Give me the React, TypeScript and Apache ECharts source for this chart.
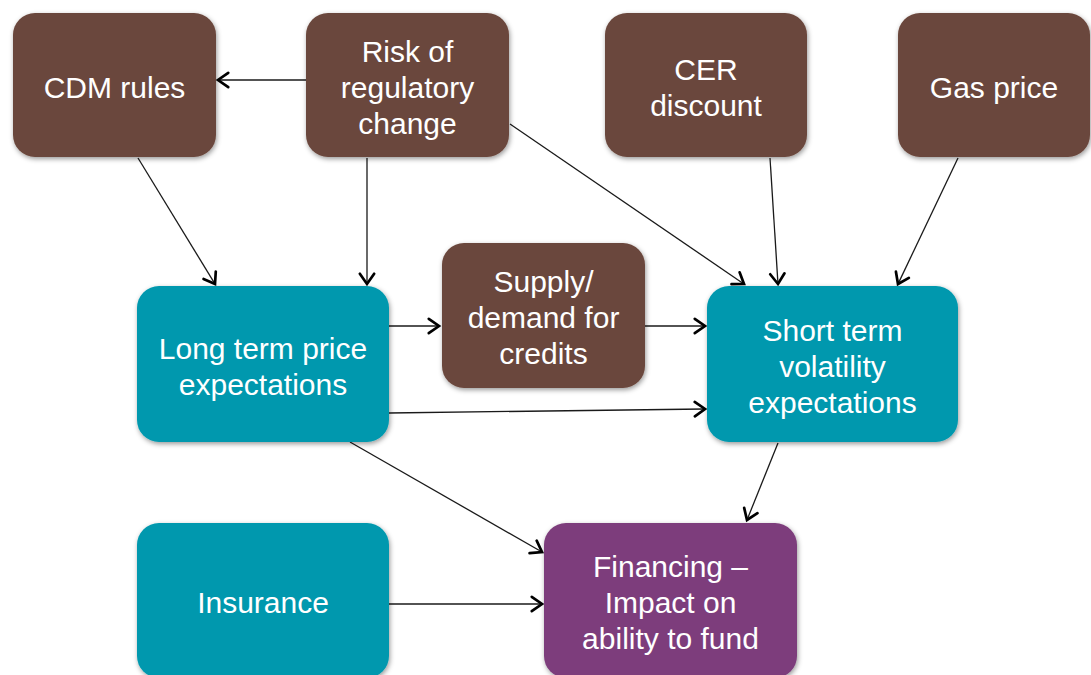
import React, { useEffect, useRef } from "react";
import * as echarts from "echarts";

// Node labels and kinds
const nodeLabels = [
  "CDM rules",
  "Risk of\nregulatory\nchange",
  "CER\ndiscount",
  "Gas price",
  "Supply/\ndemand for\ncredits",
  "Long term price\nexpectations",
  "Short term\nvolatility\nexpectations",
  "Insurance",
  "Financing –\nImpact on\nability to fund",
];
const nodeKinds = ["driver", "driver", "driver", "driver", "driver", "market", "market", "market", "outcome"];

// Node box layout [x0, y0, x1, y1] in diagram units
const nodeBoxes = [
  [13, 13, 216, 157],
  [306, 13, 509, 157],
  [605, 13, 807, 157],
  [898, 13, 1090, 157],
  [442, 243, 645, 388],
  [137, 286, 389, 442],
  [707, 286, 958, 442],
  [137, 523, 389, 678],
  [544, 523, 797, 678],
];

// Edges: from -> to, and their anchor points [x1, y1, x2, y2]
const edgeFrom = ["Risk", "CDM", "Risk", "Risk", "CER", "Gas", "Long", "Supply", "Long", "Long", "Short", "Insurance"];
const edgeTo = ["CDM", "Long", "Long", "Short", "Short", "Short", "Supply", "Short", "Short", "Financing", "Financing", "Financing"];
const edgePoints = [
  [306, 80, 218, 80],
  [138, 158, 215, 284],
  [367, 158, 367, 284],
  [510, 124, 744, 284],
  [770, 158, 778, 284],
  [958, 158, 898, 284],
  [389, 326, 439, 326],
  [645, 326, 705, 326],
  [389, 413, 705, 409],
  [350, 442, 542, 552],
  [778, 443, 747, 520],
  [389, 604, 542, 604],
];

const kindColors: Record<string, string> = {
  driver: "#6b473c",
  market: "#0398ae",
  outcome: "#7d3e7b",
};

export default function App() {
  const ref = useRef<HTMLDivElement>(null);
  useEffect(() => {
    document.body.style.margin = "0";
    const chart = echarts.init(ref.current!, undefined, { renderer: "svg" });
    const option: any = {
      animation: false,
      backgroundColor: "#ffffff",
      grid: { left: 0, right: 0, top: 0, bottom: 0 },
      xAxis: { type: "value", min: 0, max: 1091, show: false },
      yAxis: { type: "value", min: 0, max: 675, inverse: true, show: false },
      series: [
        {
          type: "custom",
          name: "edges",
          z: 1,
          data: edgePoints.map((p, i) => ({ name: edgeFrom[i] + "->" + edgeTo[i], value: p })),
          renderItem: (params: any, api: any) => {
            const a = api.coord([api.value(0), api.value(1)]);
            const b = api.coord([api.value(2), api.value(3)]);
            const ang = Math.atan2(b[1] - a[1], b[0] - a[0]);
            const L = 12.5;
            const th = (35 * Math.PI) / 180;
            const w1 = [b[0] - L * Math.cos(ang - th), b[1] - L * Math.sin(ang - th)];
            const w2 = [b[0] - L * Math.cos(ang + th), b[1] - L * Math.sin(ang + th)];
            return {
              type: "group",
              children: [
                {
                  type: "line",
                  shape: { x1: a[0], y1: a[1], x2: b[0] - Math.cos(ang), y2: b[1] - Math.sin(ang) },
                  style: { stroke: "#1a1a1a", lineWidth: 1.3 },
                },
                {
                  type: "polyline",
                  shape: { points: [w1, b, w2] },
                  style: { stroke: "#000", lineWidth: 2.7, fill: "none", lineJoin: "miter", lineCap: "round" },
                },
              ],
            };
          },
        },
        {
          type: "custom",
          name: "nodes",
          z: 2,
          data: nodeBoxes.map((b, i) => ({ name: nodeLabels[i], value: b })),
          renderItem: (params: any, api: any) => {
            const p0 = api.coord([api.value(0), api.value(1)]);
            const p1 = api.coord([api.value(2), api.value(3)]);
            const i = params.dataIndex;
            const color = kindColors[nodeKinds[i]];
            return {
              type: "group",
              children: [
                {
                  type: "rect",
                  shape: { x: p0[0], y: p0[1], width: p1[0] - p0[0], height: p1[1] - p0[1], r: 22 },
                  style: {
                    fill: color,
                    shadowBlur: 5,
                    shadowColor: "rgba(0,0,0,0.4)",
                    shadowOffsetX: 1,
                    shadowOffsetY: 2,
                  },
                },
                {
                  type: "text",
                  x: (p0[0] + p1[0]) / 2,
                  y: (p0[1] + p1[1]) / 2 + 2,
                  style: {
                    text: nodeLabels[i],
                    fill: "#ffffff",
                    fontSize: 30,
                    fontFamily: '"Liberation Sans", Arial, Helvetica, sans-serif',
                    align: "center",
                    verticalAlign: "middle",
                    lineHeight: 36,
                    shadowColor: "rgba(0,0,0,0.55)",
                    shadowBlur: 2,
                    shadowOffsetX: 0,
                    shadowOffsetY: 1,
                  },
                },
              ],
            };
          },
        },
      ],
    };
    chart.setOption(option);
    return () => chart.dispose();
  }, []);
  return <div ref={ref} style={{ width: 1091, height: 675 }} />;
}
